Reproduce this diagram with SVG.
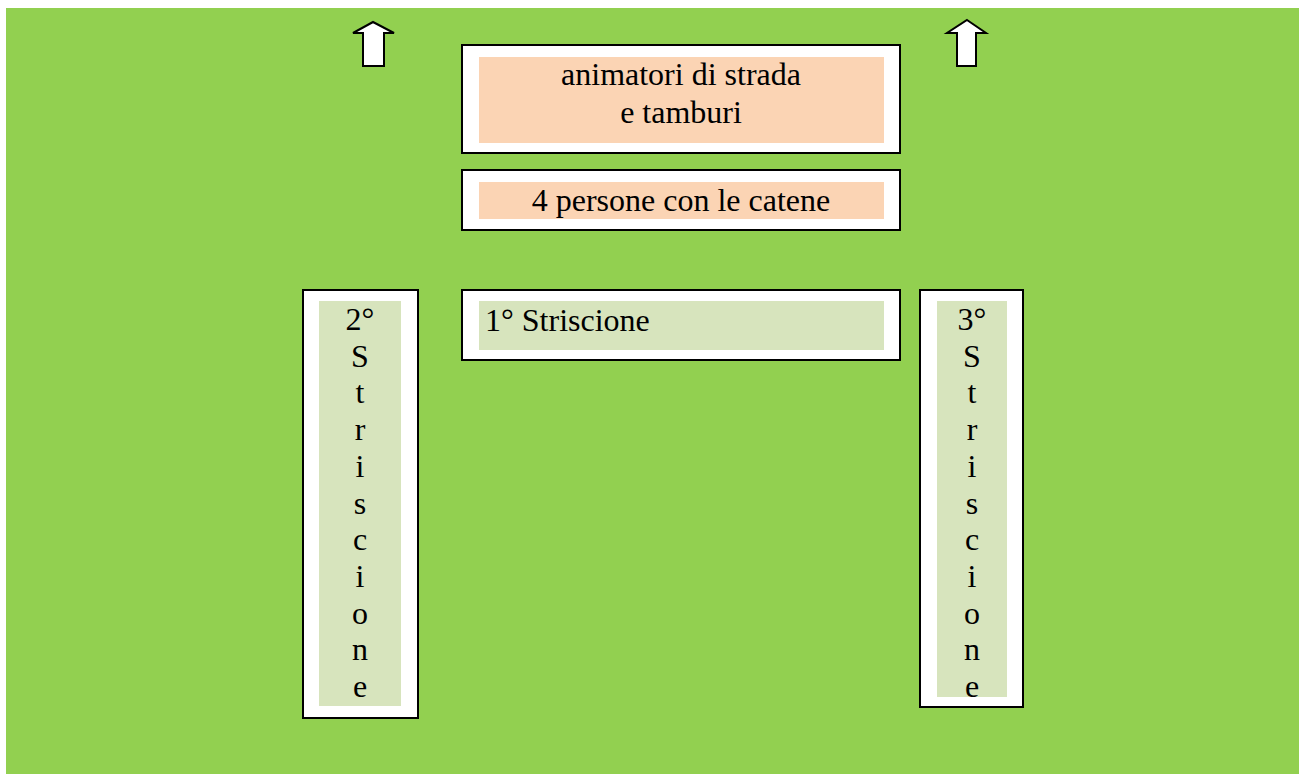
<svg xmlns="http://www.w3.org/2000/svg" width="1299" height="774" viewBox="0 0 1299 774">
<style>
.frame{fill:#fff;stroke:#000;stroke-width:2}
.peach{fill:#FBD4B4}
.sage{fill:#D7E4BD}
.t{font-family:"Liberation Serif","Times New Roman",serif;font-size:32px;fill:#000}
.c{text-anchor:middle}
.arrow{fill:#fff;stroke:#000;stroke-width:2;stroke-linejoin:miter}
</style>
<rect x="0" y="0" width="1299" height="774" fill="#fff"/>
<rect x="6" y="8" width="1293" height="766" fill="#92D050"/>
<g id="connectors">
<path class="arrow" d="M373,22 L394,33 L384,33 L384,66 L363,66 L363,33 L353,33 Z"/>
<path class="arrow" d="M967,20 L986,33 L976,33 L976,66 L957,66 L957,33 L947,33 Z"/>
</g>
<g id="animatori">
<rect class="frame" x="462" y="45" width="438" height="108"/>
<rect class="peach" x="479" y="57" width="405" height="86"/>
<text class="t c" x="681" y="85">animatori di strada</text>
<text class="t c" x="681" y="123">e tamburi</text>
</g>
<g id="catene">
<rect class="frame" x="462" y="170" width="438" height="60"/>
<rect class="peach" x="479" y="182" width="405" height="37"/>
<text class="t c" x="681" y="211">4 persone con le catene</text>
</g>
<g id="striscione1">
<rect class="frame" x="462" y="290" width="438" height="70"/>
<rect class="sage" x="479" y="301" width="405" height="49"/>
<text class="t" x="485" y="331">1° Striscione</text>
</g>
<g id="striscione2">
<rect class="frame" x="303" y="290" width="115" height="428"/>
<rect class="sage" x="319" y="301" width="82" height="405"/>
<text class="t c" x="360" y="330">2°</text>
<text class="t c" x="360" y="366.7">S</text>
<text class="t c" x="360" y="403.4">t</text>
<text class="t c" x="360" y="440.1">r</text>
<text class="t c" x="360" y="476.8">i</text>
<text class="t c" x="360" y="513.5">s</text>
<text class="t c" x="360" y="550.2">c</text>
<text class="t c" x="360" y="586.9">i</text>
<text class="t c" x="360" y="623.6">o</text>
<text class="t c" x="360" y="660.3">n</text>
<text class="t c" x="360" y="697">e</text>
</g>
<g id="striscione3">
<rect class="frame" x="920" y="290" width="103" height="417"/>
<rect class="sage" x="937" y="301" width="70" height="396"/>
<text class="t c" x="972" y="330">3°</text>
<text class="t c" x="972" y="366.7">S</text>
<text class="t c" x="972" y="403.4">t</text>
<text class="t c" x="972" y="440.1">r</text>
<text class="t c" x="972" y="476.8">i</text>
<text class="t c" x="972" y="513.5">s</text>
<text class="t c" x="972" y="550.2">c</text>
<text class="t c" x="972" y="586.9">i</text>
<text class="t c" x="972" y="623.6">o</text>
<text class="t c" x="972" y="660.3">n</text>
<text class="t c" x="972" y="697">e</text>
</g>
</svg>
